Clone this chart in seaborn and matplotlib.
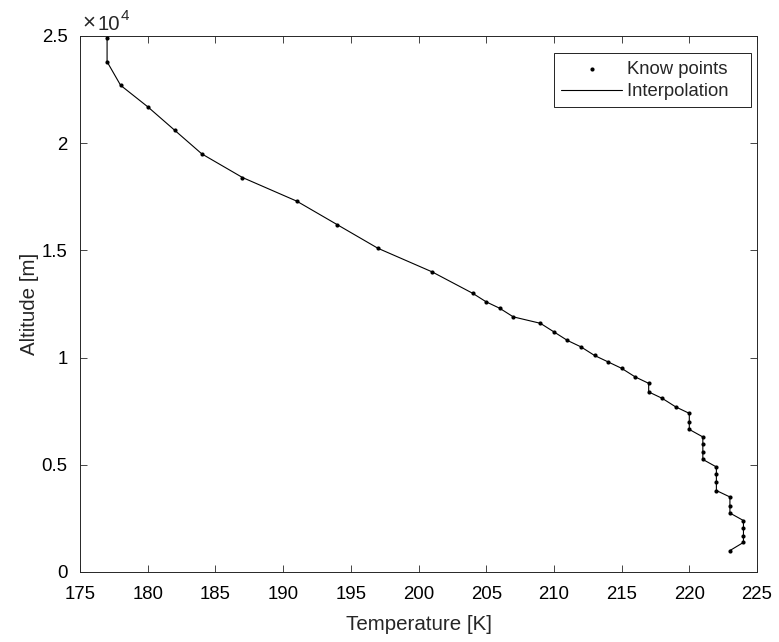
import numpy as np
import pandas as pd
import matplotlib
matplotlib.use("Agg")
import matplotlib.pyplot as plt
import seaborn as sns
from matplotlib.ticker import FixedLocator, FuncFormatter

# data (temperature K, altitude m)
temperature = [177, 177, 178, 180, 182, 184, 187, 191, 194, 197, 201, 204,
               205, 206, 207, 209, 210, 211, 212, 213, 214, 215, 216, 217,
               217, 218, 219, 220, 220, 220, 221, 221, 221, 221, 222, 222,
               222, 222, 223, 223, 223, 224, 224, 224, 224, 223]
altitude = [24900, 23800, 22700, 21700, 20600, 19500, 18400, 17300, 16200,
            15100, 14000, 13000, 12600, 12300, 11900, 11600, 11200, 10800,
            10500, 10100, 9800, 9500, 9100, 8800, 8400, 8100, 7700, 7400,
            7000, 6650, 6300, 5950, 5600, 5250, 4900, 4550, 4200, 3800,
            3500, 3100, 2750, 2400, 2050, 1700, 1380, 1000]

x_ticks = [175, 180, 185, 190, 195, 200, 205, 210, 215, 220, 225]
y_ticks = [0, 5000, 10000, 15000, 20000, 25000]

df = pd.DataFrame({"T": temperature, "h": altitude})

sns.set_style("ticks")
plt.rcParams["font.family"] = ["Liberation Sans", "DejaVu Sans"]

fig = plt.figure(figsize=(7.79, 6.42), dpi=100)
ax = fig.add_axes([80 / 779, 1 - 572 / 642, 677 / 779, 536 / 642])

sns.lineplot(data=df, x="T", y="h", sort=False, estimator=None,
             color="black", linewidth=0.8, label="Interpolation", ax=ax)
sns.scatterplot(data=df, x="T", y="h", color="black", s=9, linewidth=0,
                label="Know points", ax=ax, zorder=3)

ax.set_xlim(175, 225)
ax.set_ylim(0, 25000)
ax.xaxis.set_major_locator(FixedLocator(x_ticks))
ax.yaxis.set_major_locator(FixedLocator(y_ticks))
ax.yaxis.set_major_formatter(FuncFormatter(lambda v, p: f"{v / 1e4:g}"))
ax.tick_params(direction="in", top=True, right=True, length=4.8,
               width=0.6, labelsize=13.4, colors="#262626", labelcolor="black")
ax.tick_params(axis="x", pad=10)
ax.tick_params(axis="y", pad=9)
for s in ax.spines.values():
    s.set_visible(True)
    s.set_linewidth(0.7)
    s.set_color("#262626")

# exponent label, MATLAB style
t1 = ax.text(0.004, 1.004, "\u00d7", transform=ax.transAxes,
             ha="left", va="bottom", fontsize=16)
t2 = ax.annotate("10", xy=(1, 0), xycoords=t1, xytext=(1.5, 0),
                 textcoords="offset points", ha="left", va="bottom",
                 fontsize=14.6)
ax.annotate("4", xy=(1, 0.55), xycoords=t2, xytext=(0.3, 0),
            textcoords="offset points", ha="left", va="bottom", fontsize=11)

ax.set_xlabel("Temperature [K]", fontsize=14.8, labelpad=9)
ax.set_ylabel("Altitude [m]", fontsize=14.8, labelpad=2)

h, l = ax.get_legend_handles_labels()
order = [l.index("Know points"), l.index("Interpolation")]
names = ["Know points   ", "Interpolation   "]
leg = ax.legend([h[i] for i in order], names,
                loc="upper right", bbox_to_anchor=(0.991, 0.968),
                fancybox=False, framealpha=1, edgecolor="black",
                fontsize=13.3, handlelength=3.3, handletextpad=0.25,
                borderpad=0.4, labelspacing=0.3, borderaxespad=0,
                markerscale=1.0)
leg.get_frame().set_linewidth(0.6)

fig.savefig("out.png", dpi=100)
